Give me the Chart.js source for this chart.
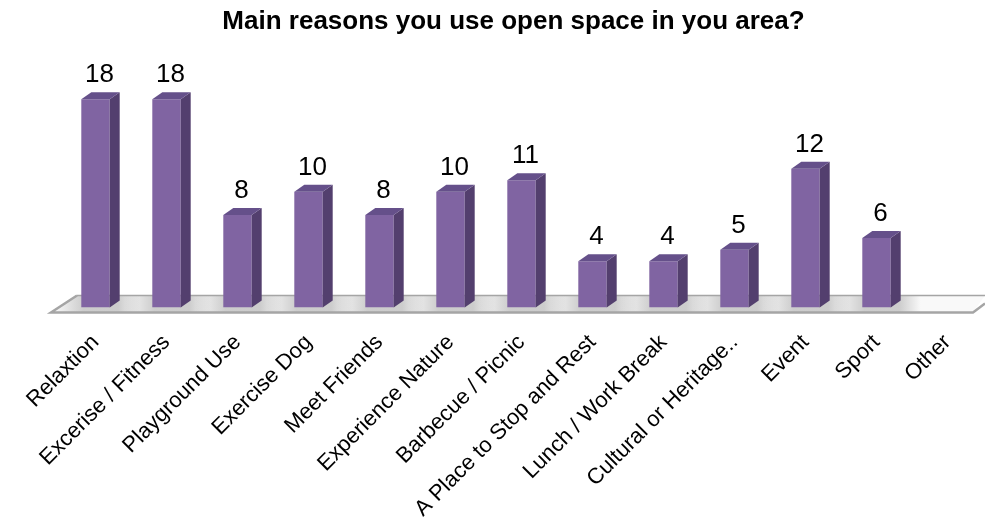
<!DOCTYPE html>
<html>
<head>
<meta charset="utf-8">
<script src="https://cdn.jsdelivr.net/npm/chart.js@4.4.1/dist/chart.umd.min.js"></script>
<style>
  html, body { margin: 0; padding: 0; background: #fff; }
  #wrap { width: 985px; height: 520px; position: relative; }
</style>
</head>
<body>
<div id="wrap"><canvas id="chart"></canvas></div>
<script>
// ==========================
// Data
// ==========================
const reasons = [
  'Relaxtion', 'Excerise / Fitness', 'Playground Use', 'Exercise Dog', 'Meet Friends',
  'Experience Nature', 'Barbecue / Picnic', 'A Place to Stop and Rest', 'Lunch / Work Break',
  'Cultural or Heritage..', 'Event', 'Sport', 'Other'
];
const counts = [18, 18, 8, 10, 8, 10, 11, 4, 4, 5, 12, 6, 0];
const chartTitle = 'Main reasons you use open space in you area?';

// ==========================
// Look
// ==========================
const FONT = '"Liberation Sans", Arial, sans-serif';
const frontColor = '#8064a2';
const sideColor = '#533f6e';
const topColor = '#65508a';
const dx = 10, dy = -7;

// fake 3d: floor under the bars, side + top faces and value labels
const bar3d = {
  id: 'bar3d',
  beforeDatasetsDraw(chart) {
    const { ctx, chartArea: a, scales: { y } } = chart;
    const y0 = y.getPixelForValue(0);
    const fy = y0 + 5, by = y0 - 12;
    const lf = a.left - 9, lb = a.left + 17, rb = a.right + 2, rf = a.right - 10;

    ctx.save();
    ctx.beginPath();
    ctx.moveTo(lf, fy); ctx.lineTo(lb, by); ctx.lineTo(rb, by); ctx.lineTo(rf, fy);
    ctx.closePath();
    ctx.fillStyle = '#f9f9f9';
    ctx.fill();
    ctx.clip();

    // bar shadows on the floor
    const meta = chart.getDatasetMeta(0);
    meta.data.forEach((bar, i) => {
      if (!counts[i]) return;
      const { x, width } = bar.getProps(['x', 'width'], true);
      const x1 = x - width / 2 - 28, x2 = x + width / 2 + 30;
      const g = ctx.createLinearGradient(x1, 0, x2, 0);
      g.addColorStop(0, 'rgba(150,150,150,0)');
      g.addColorStop(0.35, 'rgba(150,150,150,0.45)');
      g.addColorStop(0.75, 'rgba(150,150,150,0.45)');
      g.addColorStop(1, 'rgba(150,150,150,0)');
      ctx.fillStyle = g;
      ctx.fillRect(x1, by, x2 - x1, fy - by);
    });
    ctx.restore();

    ctx.save();
    ctx.strokeStyle = '#a5a5a5';
    ctx.lineWidth = 1.5;
    ctx.beginPath();
    ctx.moveTo(lb, by); ctx.lineTo(rb, by);
    ctx.stroke();
    ctx.lineWidth = 2.5;
    ctx.beginPath();
    ctx.moveTo(rb, by + 8); ctx.lineTo(rf, fy); ctx.lineTo(lf, fy); ctx.lineTo(lb, by);
    ctx.stroke();
    ctx.restore();
  },
  afterDatasetsDraw(chart) {
    const { ctx } = chart;
    const meta = chart.getDatasetMeta(0);
    ctx.save();
    meta.data.forEach((bar, i) => {
      if (!counts[i]) return;
      const { x, y, base, width } = bar.getProps(['x', 'y', 'base', 'width'], true);
      const l = x - width / 2, r = x + width / 2;

      ctx.fillStyle = sideColor;
      ctx.beginPath();
      ctx.moveTo(r, y); ctx.lineTo(r + dx, y + dy); ctx.lineTo(r + dx, base + dy); ctx.lineTo(r, base);
      ctx.closePath();
      ctx.fill();

      ctx.fillStyle = topColor;
      ctx.beginPath();
      ctx.moveTo(l, y); ctx.lineTo(l + dx, y + dy); ctx.lineTo(r + dx, y + dy); ctx.lineTo(r, y);
      ctx.closePath();
      ctx.fill();

      ctx.fillStyle = '#000';
      ctx.font = '26px ' + FONT;
      ctx.textAlign = 'center';
      ctx.textBaseline = 'alphabetic';
      ctx.fillText(String(counts[i]), x + 4, y - 17);
    });
    ctx.restore();
  }
};

new Chart(document.getElementById('chart'), {
  type: 'bar',
  data: {
    labels: reasons,
    datasets: [{
      data: counts,
      backgroundColor: frontColor,
      borderWidth: 0,
      barPercentage: 0.5,
      categoryPercentage: 0.8
    }]
  },
  options: {
    responsive: true,
    maintainAspectRatio: false,
    animation: false,
    layout: { padding: { left: 44, right: 2, top: 0, bottom: -16 } },
    plugins: {
      legend: { display: false },
      tooltip: { enabled: false },
      title: {
        display: true,
        text: chartTitle,
        color: '#000',
        font: { family: FONT, size: 26, weight: 'bold' },
        padding: { top: 6, bottom: 39 }
      }
    },
    scales: {
      x: {
        grid: { display: false },
        border: { display: false },
        ticks: {
          color: '#000',
          font: { family: FONT, size: 22 },
          minRotation: 45,
          maxRotation: 45,
          autoSkip: false,
          padding: 14
        }
      },
      y: {
        min: 0,
        max: 20,
        grid: { display: false },
        border: { display: false },
        ticks: { display: false },
        // empty strip so the plot starts where the original does
        afterFit(scale) { scale.width = 16; }
      }
    }
  },
  plugins: [bar3d]
});
</script>
</body>
</html>
